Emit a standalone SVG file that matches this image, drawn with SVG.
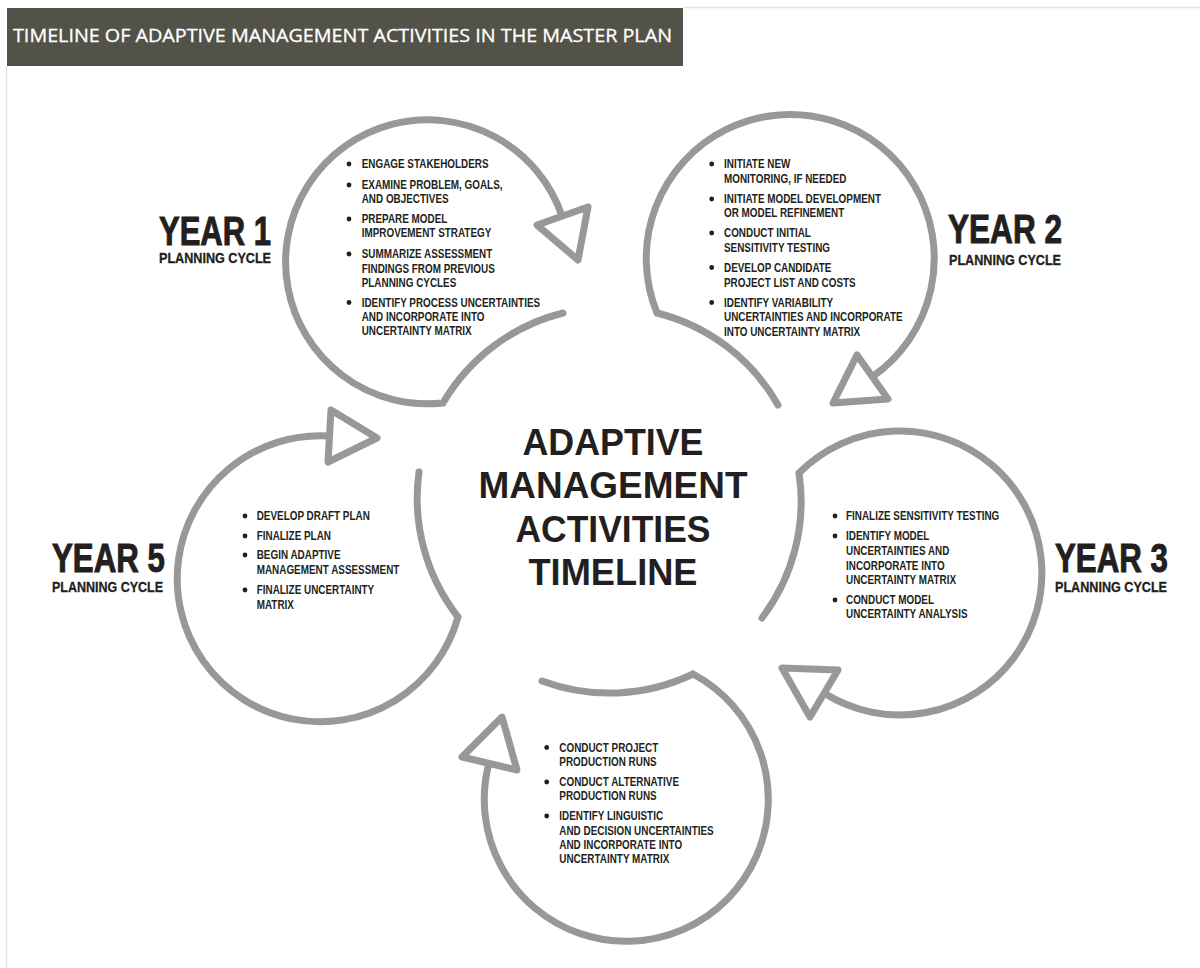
<svg xmlns="http://www.w3.org/2000/svg" width="1200" height="968" viewBox="0 0 1200 968">
<style>
.bg{fill:#ffffff}
.frame{stroke:#e3e3e3;stroke-width:1.5;fill:none}
.hdr{fill:#525249}
.hdrt{font-family:"Open Sans","Liberation Sans",sans-serif;font-size:18px;fill:#ffffff;stroke:#ffffff;stroke-width:0.3}
.petal{fill:none;stroke:#969899;stroke-width:7;stroke-linecap:round;stroke-linejoin:miter;stroke-miterlimit:10}
.head{fill:#ffffff;stroke:#969899;stroke-width:7;stroke-linejoin:round}
.yr{font-family:"Liberation Sans",Arial,sans-serif;font-weight:bold;font-size:41px;fill:#231f20;stroke:#231f20;stroke-width:1}
.pc{font-family:"Liberation Sans",Arial,sans-serif;font-weight:bold;font-size:14.5px;fill:#231f20;stroke:#231f20;stroke-width:0.3}
.title{font-family:"Liberation Sans",Arial,sans-serif;font-weight:bold;font-size:37.5px;fill:#231f20;text-anchor:middle}
.b{font-family:"Liberation Sans",Arial,sans-serif;font-weight:bold;font-size:12px;fill:#231f20}
.dot{fill:#231f20}
</style>
<rect class="bg" x="0" y="0" width="1200" height="968"/>
<line class="frame" x1="683" y1="7.5" x2="1200" y2="7.5"/>
<line class="frame" x1="6.5" y1="66" x2="6.5" y2="968"/>
<g id="header">
<rect class="hdr" x="7" y="8" width="676" height="58"/>
<text class="hdrt" x="13" y="42" textLength="659" lengthAdjust="spacingAndGlyphs">TIMELINE OF ADAPTIVE MANAGEMENT ACTIVITIES IN THE MASTER PLAN</text>
</g>
<g id="connectors">
<path class="petal" d="M563,313 A193,193 0 0 0 443,403 A142,142 0 1 1 562,216"/>
<path class="petal" d="M778,405 A193,193 0 0 0 657,313 A144,144 0 1 1 872,377"/>
<path class="petal" d="M762,618 A193,193 0 0 0 799,473 A142,142 0 1 1 824,693"/>
<path class="petal" d="M542,681 A193,193 0 0 0 693,674 A142,142 0 1 1 489,763"/>
<path class="petal" d="M419,472 A193,193 0 0 0 458,617 A143,143 0 1 1 329,436"/>
<polygon class="head" points="588,207 537,225 578,260"/>
<polygon class="head" points="857,355 888,399 833,403"/>
<polygon class="head" points="782,668 838,670 810,717"/>
<polygon class="head" points="502,717 462,757 517,770"/>
<polygon class="head" points="331,410 377,438 328,462"/>
</g>
<g id="center">
<text class="title" x="613" y="455" textLength="181" lengthAdjust="spacingAndGlyphs">ADAPTIVE</text>
<text class="title" x="613" y="498" textLength="269" lengthAdjust="spacingAndGlyphs">MANAGEMENT</text>
<text class="title" x="613" y="542" textLength="195" lengthAdjust="spacingAndGlyphs">ACTIVITIES</text>
<text class="title" x="613" y="585" textLength="169" lengthAdjust="spacingAndGlyphs">TIMELINE</text>
</g>
<g id="year1">
<text class="yr" x="159" y="245" textLength="112" lengthAdjust="spacingAndGlyphs">YEAR 1</text>
<text class="pc" x="159" y="263" textLength="112" lengthAdjust="spacingAndGlyphs">PLANNING CYCLE</text>
<circle class="dot" cx="349" cy="164" r="2.4"/>
<circle class="dot" cx="349" cy="185" r="2.4"/>
<circle class="dot" cx="349" cy="219" r="2.4"/>
<circle class="dot" cx="349" cy="254" r="2.4"/>
<circle class="dot" cx="349" cy="302.5" r="2.4"/>
<g transform="translate(361.7,0) scale(0.825,1)">
<text class="b" x="0" y="168.3">ENGAGE STAKEHOLDERS</text>
<text class="b" x="0" y="189.3">EXAMINE PROBLEM, GOALS,</text>
<text class="b" x="0" y="203.3">AND OBJECTIVES</text>
<text class="b" x="0" y="223.3">PREPARE MODEL</text>
<text class="b" x="0" y="237.3">IMPROVEMENT STRATEGY</text>
<text class="b" x="0" y="258.3">SUMMARIZE ASSESSMENT</text>
<text class="b" x="0" y="272.7">FINDINGS FROM PREVIOUS</text>
<text class="b" x="0" y="286.7">PLANNING CYCLES</text>
<text class="b" x="0" y="306.7">IDENTIFY PROCESS UNCERTAINTIES</text>
<text class="b" x="0" y="320.7">AND INCORPORATE INTO</text>
<text class="b" x="0" y="335">UNCERTAINTY MATRIX</text>
</g>
</g>
<g id="year2">
<text class="yr" x="948" y="243" textLength="114" lengthAdjust="spacingAndGlyphs">YEAR 2</text>
<text class="pc" x="949" y="265" textLength="112" lengthAdjust="spacingAndGlyphs">PLANNING CYCLE</text>
<circle class="dot" cx="711.7" cy="164" r="2.4"/>
<circle class="dot" cx="711.7" cy="199" r="2.4"/>
<circle class="dot" cx="711.7" cy="233" r="2.4"/>
<circle class="dot" cx="711.7" cy="267.5" r="2.4"/>
<circle class="dot" cx="711.7" cy="302.5" r="2.4"/>
<g transform="translate(724,0) scale(0.825,1)">
<text class="b" x="0" y="168.3">INITIATE NEW</text>
<text class="b" x="0" y="183.3">MONITORING, IF NEEDED</text>
<text class="b" x="0" y="203.3">INITIATE MODEL DEVELOPMENT</text>
<text class="b" x="0" y="217.3">OR MODEL REFINEMENT</text>
<text class="b" x="0" y="237.3">CONDUCT INITIAL</text>
<text class="b" x="0" y="252.3">SENSITIVITY TESTING</text>
<text class="b" x="0" y="271.7">DEVELOP CANDIDATE</text>
<text class="b" x="0" y="286.7">PROJECT LIST AND COSTS</text>
<text class="b" x="0" y="306.7">IDENTIFY VARIABILITY</text>
<text class="b" x="0" y="320.7">UNCERTAINTIES AND INCORPORATE</text>
<text class="b" x="0" y="335.7">INTO UNCERTAINTY MATRIX</text>
</g>
</g>
<g id="year3">
<text class="yr" x="1055" y="572" textLength="113" lengthAdjust="spacingAndGlyphs">YEAR 3</text>
<text class="pc" x="1055" y="592" textLength="112" lengthAdjust="spacingAndGlyphs">PLANNING CYCLE</text>
<circle class="dot" cx="835" cy="516" r="2.4"/>
<circle class="dot" cx="835" cy="536" r="2.4"/>
<circle class="dot" cx="835" cy="600" r="2.4"/>
<g transform="translate(846,0) scale(0.825,1)">
<text class="b" x="0" y="520">FINALIZE SENSITIVITY TESTING</text>
<text class="b" x="0" y="540">IDENTIFY MODEL</text>
<text class="b" x="0" y="555">UNCERTAINTIES AND</text>
<text class="b" x="0" y="570">INCORPORATE INTO</text>
<text class="b" x="0" y="584">UNCERTAINTY MATRIX</text>
<text class="b" x="0" y="604.3">CONDUCT MODEL</text>
<text class="b" x="0" y="618.3">UNCERTAINTY ANALYSIS</text>
</g>
</g>
<g id="year4">
<circle class="dot" cx="546.7" cy="747.5" r="2.4"/>
<circle class="dot" cx="546.7" cy="782" r="2.4"/>
<circle class="dot" cx="546.7" cy="816" r="2.4"/>
<g transform="translate(559.3,0) scale(0.825,1)">
<text class="b" x="0" y="751.7">CONDUCT PROJECT</text>
<text class="b" x="0" y="766">PRODUCTION RUNS</text>
<text class="b" x="0" y="786">CONDUCT ALTERNATIVE</text>
<text class="b" x="0" y="800">PRODUCTION RUNS</text>
<text class="b" x="0" y="820">IDENTIFY LINGUISTIC</text>
<text class="b" x="0" y="835">AND DECISION UNCERTAINTIES</text>
<text class="b" x="0" y="849.3">AND INCORPORATE INTO</text>
<text class="b" x="0" y="863.3">UNCERTAINTY MATRIX</text>
</g>
</g>
<g id="year5">
<text class="yr" x="52" y="572" textLength="113" lengthAdjust="spacingAndGlyphs">YEAR 5</text>
<text class="pc" x="52" y="592" textLength="111" lengthAdjust="spacingAndGlyphs">PLANNING CYCLE</text>
<circle class="dot" cx="245" cy="516" r="2.4"/>
<circle class="dot" cx="245" cy="536" r="2.4"/>
<circle class="dot" cx="245" cy="555" r="2.4"/>
<circle class="dot" cx="245" cy="590" r="2.4"/>
<g transform="translate(256.7,0) scale(0.825,1)">
<text class="b" x="0" y="520">DEVELOP DRAFT PLAN</text>
<text class="b" x="0" y="540">FINALIZE PLAN</text>
<text class="b" x="0" y="559.3">BEGIN ADAPTIVE</text>
<text class="b" x="0" y="574">MANAGEMENT ASSESSMENT</text>
<text class="b" x="0" y="594.3">FINALIZE UNCERTAINTY</text>
<text class="b" x="0" y="609">MATRIX</text>
</g>
</g>
</svg>
